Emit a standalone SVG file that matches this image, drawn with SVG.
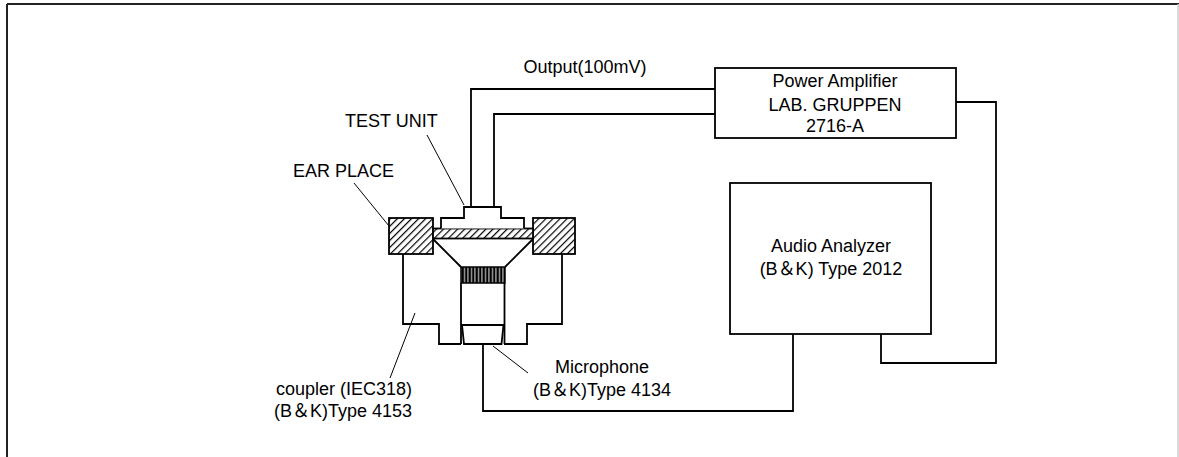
<svg xmlns="http://www.w3.org/2000/svg" width="1179" height="457" viewBox="0 0 1179 457">
<style>
.ln{fill:none;stroke:#000;stroke-width:1.8}
.ld{fill:none;stroke:#000;stroke-width:1}
.wb{fill:#fff;stroke:#000;stroke-width:1.8}
.hb{fill:url(#hatch);stroke:#000;stroke-width:1.8}
text{font-family:"Liberation Sans","Noto Sans CJK JP",Arial,sans-serif;font-size:18px;fill:#000}
.c{text-anchor:middle}
</style>
<defs>
<pattern id="hatch" patternUnits="userSpaceOnUse" width="5" height="5" patternTransform="rotate(45)">
<rect width="5" height="5" fill="#fff"/>
<line x1="0.6" y1="0" x2="0.6" y2="5" stroke="#000" stroke-width="1.2"/>
</pattern>
<pattern id="grille" patternUnits="userSpaceOnUse" width="3.5" height="20">
<rect width="3.5" height="20" fill="#000"/>
<line x1="2.5" y1="0" x2="2.5" y2="20" stroke="#fff" stroke-width="0.9"/>
</pattern>
</defs>
<rect width="1179" height="457" fill="#fff"/>
<g id="frame">
<line x1="7" y1="4" x2="1179" y2="4" stroke="#222" stroke-width="2"/>
<line x1="7" y1="4" x2="7" y2="457" stroke="#222" stroke-width="2"/>
<line x1="1178" y1="4" x2="1178" y2="457" stroke="#ccc" stroke-width="1.5"/>
</g>
<g id="connectors">
<polyline class="ln" points="471,207 471,89 715,89"/>
<polyline class="ln" points="494,207 494,114 715,114"/>
<polyline class="ln" points="956,102 996,102 996,363 881,363 881,334"/>
<polyline class="ln" points="483,344 483,411 793,411 793,334"/>
</g>
<g id="coupler">
<path class="ln" d="M403,254 V324 H439 V344 H461"/>
<path class="ln" d="M504,344 H527 V324 H562 V254"/>
<path class="ln" d="M433,239 L461,267 M533,239 L505,267"/>
</g>
<g id="microphone">
<rect x="461" y="267" width="44" height="16" fill="url(#grille)" stroke="#000" stroke-width="1.5"/>
<path class="ln" d="M461,283 V344 M504.5,283 V344 M461,325 H504.5"/>
<path class="ln" d="M462,325 L464,344 H501.5 L503.5,325"/>
</g>
<g id="ear-place">
<rect class="hb" x="389" y="218" width="44" height="36"/>
<rect class="hb" x="533" y="218" width="42" height="36"/>
<rect class="hb" x="433" y="228.5" width="100" height="10"/>
</g>
<g id="test-unit">
<path class="wb" d="M441,228.5 V218 H464 V207 H501 V218 H524 V228.5"/>
</g>
<g id="power-amplifier">
<rect class="wb" x="715" y="68" width="241" height="70"/>
<text class="c" x="835" y="87">Power Amplifier</text>
<text class="c" x="835" y="111">LAB. GRUPPEN</text>
<text class="c" x="835" y="132">2716-A</text>
</g>
<g id="audio-analyzer">
<rect class="wb" x="730" y="183" width="201" height="151"/>
<text class="c" x="831" y="252">Audio Analyzer</text>
<text class="c" x="831" y="275">(B＆K) Type 2012</text>
</g>
<g id="labels">
<text class="c" x="585" y="73">Output(100mV)</text>
<text x="345" y="127">TEST UNIT</text>
<line class="ld" x1="427" y1="135" x2="464" y2="205"/>
<text x="293" y="177">EAR PLACE</text>
<line class="ld" x1="354" y1="183" x2="389" y2="226"/>
<text x="276" y="395">coupler (IEC318)</text>
<text x="274" y="417">(B＆K)Type 4153</text>
<line class="ld" x1="390" y1="378" x2="415" y2="313"/>
<text class="c" x="602" y="373">Microphone</text>
<text class="c" x="602" y="396">(B＆K)Type 4134</text>
<line class="ld" x1="493" y1="346" x2="528" y2="373"/>
</g>
</svg>
